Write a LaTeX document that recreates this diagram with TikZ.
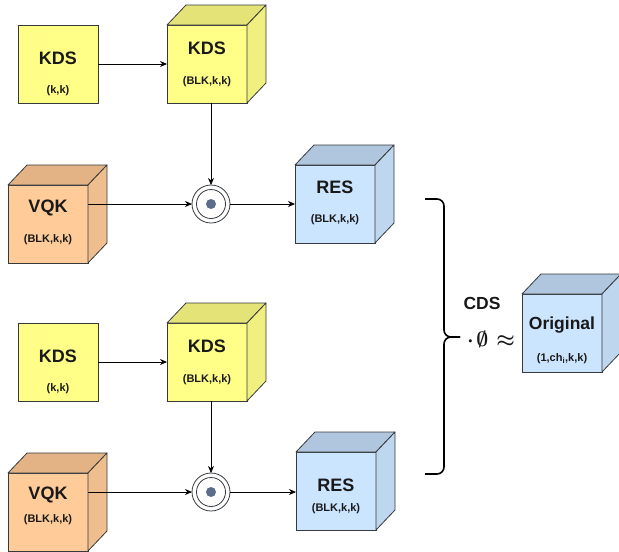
\documentclass[tikz,border=0pt]{standalone}
\usepackage{fontspec}
\setmainfont{Liberation Sans}
\usetikzlibrary{arrows.meta,calc}
\definecolor{strk}{HTML}{36393D}
\definecolor{yfront}{HTML}{FFFF88}
\definecolor{ytop}{HTML}{E3E377}
\definecolor{yside}{HTML}{F0F080}
\definecolor{ofront}{HTML}{FFCC99}
\definecolor{otop}{HTML}{E3B385}
\definecolor{oside}{HTML}{EFBE8E}
\definecolor{bfront}{HTML}{CCE5FF}
\definecolor{btop}{HTML}{B0C6DE}
\definecolor{bside}{HTML}{BED6EE}
\definecolor{dotc}{HTML}{5A6E8C}
\tikzset{
  face/.style={draw=strk, line width=0.8pt, inner sep=0pt, outer sep=0pt,
    minimum width=80pt, minimum height=78pt},
  ttl/.style={font=\fontsize{18}{20}\selectfont\bfseries, text=black!90},
  sub/.style={font=\fontsize{11}{13}\selectfont\bfseries, text=black!90},
  conn/.style={draw=black, line width=0.7pt, -{Stealth[length=7pt,width=6pt]}},
  ring/.style={circle, draw=strk, line width=0.8pt, minimum size=38pt, inner sep=0pt, outer sep=0pt, fill=white},
  brace/.style={draw=black, line width=1.6pt, rounded corners=7pt},
}
\newcommand\mycube[5]{% name, center, front, top, side
  \node[face, fill=#3] (#1) at #2 {};
  \draw[draw=strk, line width=0.8pt, fill=#4, line join=round] (#1.north west) -- ++(19,-20) -- ++(80,0) -- (#1.north east) -- cycle;
  \draw[draw=strk, line width=0.8pt, fill=#5, line join=round] (#1.north east) -- ++(19,-20) -- ++(0,78) -- (#1.south east) -- cycle;
}
\newcommand\myring[2]{%
  \node[ring] (#1) at #2 {};
  \draw[strk, line width=0.8pt] (#1.center) circle (14.5pt);
  \fill[dotc] (#1.center) circle (5pt);
}
\begin{document}
\begin{tikzpicture}[x=1pt,y=-1pt]
\useasboundingbox (0,0) rectangle (619,552);
% top group
\node[face, fill=yfront] (kdsa) at (58,64) {};
\node[ttl] at (58,58) {KDS};
\node[sub] at (58,91) {(k,k)};
\mycube{kdsb}{(207,64)}{yfront}{ytop}{yside}
\node[ttl] at (207,48) {KDS};
\node[sub] at (207,82) {(BLK,k,k)};
\mycube{vqka}{(48,224)}{ofront}{otop}{oside}
\node[ttl] at (48,208) {VQK};
\node[sub] at (48,240) {(BLK,k,k)};
\mycube{resa}{(335,204)}{bfront}{btop}{bside}
\node[ttl] at (335,187) {RES};
\node[sub] at (335,220) {(BLK,k,k)};
\myring{ca}{(211,204)}
\draw[conn] (kdsa) -- (kdsb);
\draw[conn] (kdsb.south -| ca) -- (ca.north);
\draw[conn] (vqka.east |- ca) -- (ca.west);
\draw[conn] (ca.east) -- (ca -| resa.west);
% bottom group
\node[face, fill=yfront] (kdsc) at (58,362) {};
\node[ttl] at (58,356) {KDS};
\node[sub] at (58,389) {(k,k)};
\mycube{kdsd}{(207,362)}{yfront}{ytop}{yside}
\node[ttl] at (207,346) {KDS};
\node[sub] at (207,380) {(BLK,k,k)};
\mycube{vqkb}{(48,512)}{ofront}{otop}{oside}
\node[ttl] at (48,495) {VQK};
\node[sub] at (48,520) {(BLK,k,k)};
\mycube{resb}{(336,491)}{bfront}{btop}{bside}
\node[ttl] at (336,485) {RES};
\node[sub] at (336,509) {(BLK,k,k)};
\myring{cb}{(211,492)}
\draw[conn] (kdsc) -- (kdsd);
\draw[conn] (kdsd.south -| cb) -- (cb.north);
\draw[conn] (vqkb.east |- cb) -- (cb.west);
\draw[conn] (cb.east) -- (cb -| resb.west);
% brace
\coordinate (bt) at (425,199);
\coordinate (bm) at (460,337);
\coordinate (bb) at (425,474);
\draw[brace] (bt) -- (444,199) -- (444,337) -- (bm);
\draw[brace] (bm) -- (444,337) -- (444,474) -- (bb);
% result
\node[ttl, font=\fontsize{17.5}{20}\selectfont\bfseries] at (482,303) {CDS};
\node[font=\fontsize{20}{22}\selectfont\boldmath, text=black!90] (eq) at (491,339) {$\mathord{\cdot}\mkern2mu\emptyset\mkern6mu{\approx}$};
\mycube{orig}{(562,333)}{bfront}{btop}{bside}
\node[ttl, font=\fontsize{17.5}{20}\selectfont\bfseries] at (562,325) {Original};
\node[sub] at (562,359) {(1,ch\textsubscript{i},k,k)};
\end{tikzpicture}
\end{document}
